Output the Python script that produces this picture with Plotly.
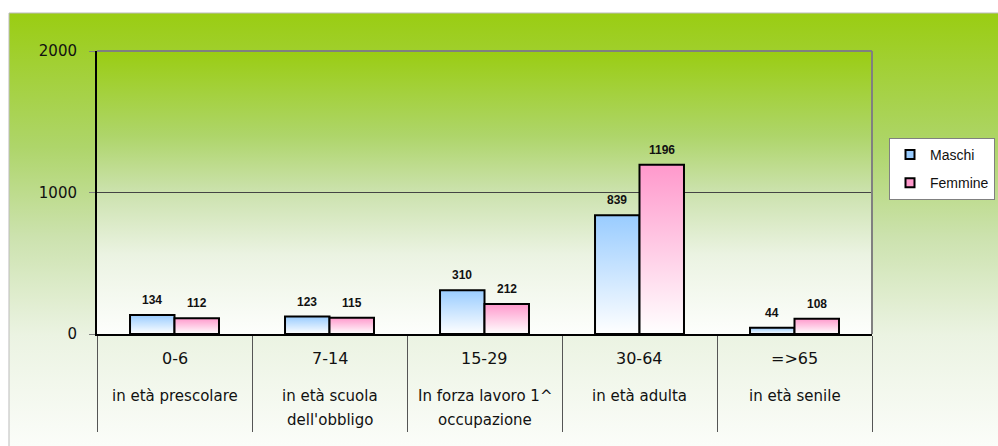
import base64
import plotly.graph_objects as go

# ---------------- data ----------------
age_ranges = ["0-6", "7-14", "15-29", "30-64", "=>65"]
descriptions = [
    ["in età prescolare"],
    ["in età scuola", "dell'obbligo"],
    ["In forza lavoro 1^", "occupazione"],
    ["in età adulta"],
    ["in età senile"],
]
maschi = [134, 123, 310, 839, 44]
femmine = [112, 115, 212, 1196, 108]
y_ticks = [0, 1000, 2000]

series = [
    ("Maschi", maschi, "#99CCFF", -1),
    ("Femmine", femmine, "#FF99CC", 1),
]

# ---------------- geometry / style ----------------
W, H = 998, 446
L, R, T, B = 97, 126, 51, 112
PW, PH = W - L - R, H - T - B
BAR_W = 0.287  # fraction of a category slot for one bar

def px_to_paper_x(px):
    return (px - L) / PW

def px_to_paper_y(py):
    return (H - B - py) / PH

def grad_svg(stops):
    st = "".join(f"<stop offset='{o}' stop-color='{c}'/>" for o, c in stops)
    svg = ("<svg xmlns='http://www.w3.org/2000/svg' width='100' height='100' "
           "viewBox='0 0 100 100' preserveAspectRatio='none'>"
           "<defs><linearGradient id='g' x1='0' y1='0' x2='0' y2='1'>" + st +
           "</linearGradient></defs><rect x='0' y='0' width='100' height='100' fill='url(#g)'/></svg>")
    return "data:image/svg+xml;base64," + base64.b64encode(svg.encode()).decode()

green_stops = [(0, "#9ACD12"), (0.3, "#AED56A"), (0.5, "#CCE2AE"),
               (0.72, "#EBF3E2"), (1, "#FDFEFC")]

fig = go.Figure()

# bars as gradient-filled polygons computed from the data
for name, vals, col, side in series:
    for i, v in enumerate(vals):
        x0 = i if side > 0 else i - BAR_W
        x1 = i + BAR_W if side > 0 else i
        fig.add_trace(go.Scatter(
            x=[x0, x0, x1, x1, x0], y=[0, v, v, 0, 0],
            mode="lines", fill="toself",
            fillgradient=dict(type="vertical",
                              colorscale=[[0, "#FFFFFF"], [1, col]]),
            line=dict(color="#000000", width=2),
            hoverinfo="skip", showlegend=False))
    # legend entry
    fig.add_trace(go.Scatter(
        x=[None], y=[None], mode="markers", name=name,
        legendgroup=name,
        marker=dict(symbol="square", size=9, color=col,
                    line=dict(color="#000000", width=2)),
        showlegend=True))

annotations = []
# data labels
for name, vals, col, side in series:
    for i, v in enumerate(vals):
        xc = i + side * BAR_W / 2
        annotations.append(dict(
            x=xc, y=v, xref="x", yref="y", text=f"<b>{v}</b>", showarrow=False,
            yanchor="middle", yshift=15,
            font=dict(family="Liberation Sans, Arial", size=12, color="#111111"),
        ))

# category labels
for i, (rng, desc) in enumerate(zip(age_ranges, descriptions)):
    annotations.append(dict(
        x=i, y=0, xref="x", yref="y", text=rng, showarrow=False,
        yanchor="middle", yshift=-24,
        font=dict(family="DejaVu Sans", size=16, color="#111111")))
    for j, line in enumerate(desc):
        annotations.append(dict(
            x=i, y=0, xref="x", yref="y", text=line, showarrow=False,
            yanchor="middle", yshift=-62 - 24 * j,
            font=dict(family="DejaVu Sans", size=15, color="#111111")))

images = [
    # outer chart area gradient
    dict(source=grad_svg(green_stops), xref="paper", yref="paper",
         x=px_to_paper_x(9), y=px_to_paper_y(13),
         sizex=px_to_paper_x(1010) - px_to_paper_x(9),
         sizey=px_to_paper_y(13) - px_to_paper_y(460),
         sizing="stretch", xanchor="left", yanchor="top", layer="below"),
    # plot area gradient
    dict(source=grad_svg(green_stops), xref="paper", yref="paper",
         x=0, y=1, sizex=1, sizey=1,
         sizing="stretch", xanchor="left", yanchor="top", layer="below"),
]

shapes = [
    # outer chart border (top & left visible)
    dict(type="rect", xref="paper", yref="paper",
         x0=px_to_paper_x(9), y0=px_to_paper_y(470),
         x1=px_to_paper_x(1020), y1=px_to_paper_y(13),
         line=dict(color="#BBBBBB", width=1), fillcolor="rgba(0,0,0,0)",
         layer="below"),
    # plot area top border
    dict(type="line", xref="paper", yref="paper", x0=0, x1=1, y0=1, y1=1,
         line=dict(color="#808080", width=2)),
    # plot area right border
    dict(type="line", xref="paper", yref="paper", x0=1, x1=1, y0=0, y1=1,
         line=dict(color="#808080", width=2)),
]

fig.update_layout(
    width=W, height=H,
    margin=dict(l=L, r=R, t=T, b=B, autoexpand=False),
    paper_bgcolor="#FFFFFF",
    plot_bgcolor="rgba(0,0,0,0)",
    images=images, shapes=shapes, annotations=annotations,
    showlegend=True,
    legend=dict(x=px_to_paper_x(889), y=px_to_paper_y(138),
                xanchor="left", yanchor="top",
                bgcolor="#FFFFFF", bordercolor="#808080", borderwidth=1,
                font=dict(family="Liberation Sans, Arial", size=14, color="#111111"),
                traceorder="grouped", tracegroupgap=7),
    hovermode=False,
)

fig.update_xaxes(
    range=[-0.5, 4.5], tickvals=[k - 0.5 for k in range(len(age_ranges) + 1)],
    ticktext=[""] * (len(age_ranges) + 1),
    ticks="outside", ticklen=96, tickcolor="#555555", tickwidth=1,
    showgrid=False, zeroline=False,
    showline=True, linecolor="#000000", linewidth=2,
)
fig.update_yaxes(
    range=[0, 2000], tickvals=y_ticks, ticktext=[str(t) for t in y_ticks],
    ticks="outside", ticklen=6, tickcolor="#808080",
    ticklabelstandoff=9,
    tickfont=dict(family="DejaVu Sans", size=15, color="#111111"),
    showgrid=True, gridcolor="#444444", gridwidth=1,
    zeroline=False,
    showline=True, linecolor="#000000", linewidth=2,
)

fig.write_html("out.html",
               config={"displayModeBar": False, "staticPlot": True},
               post_script="document.body.style.margin='0';document.body.style.overflow='hidden';")
